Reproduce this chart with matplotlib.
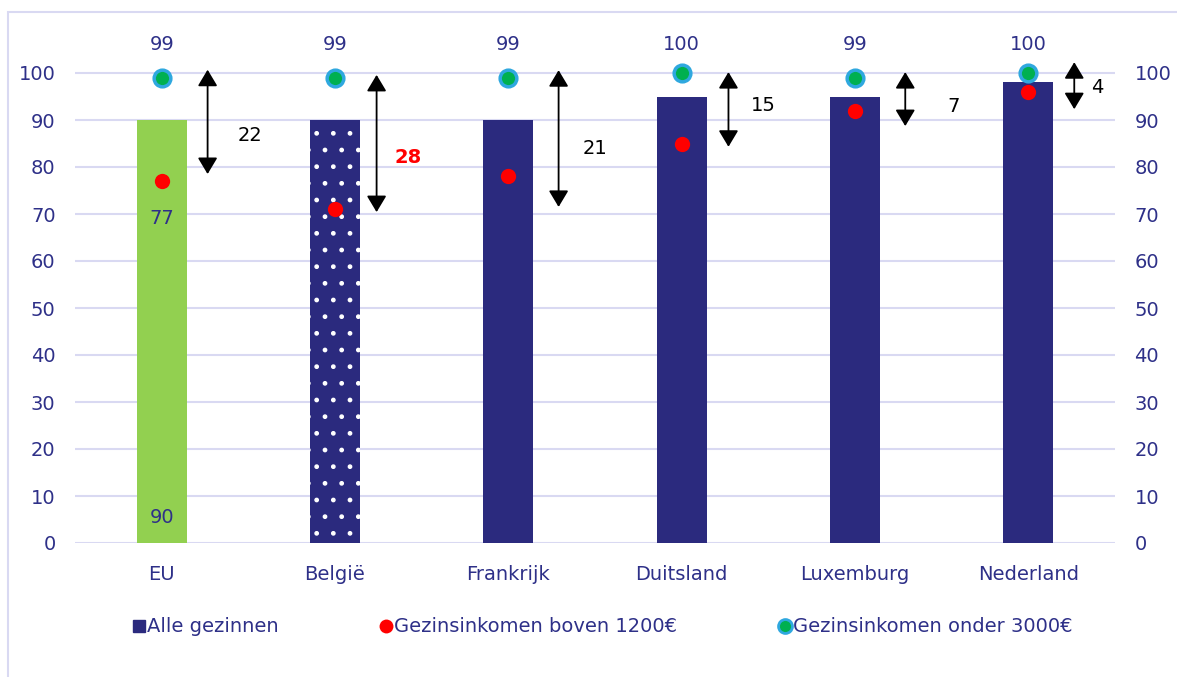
import numpy as np
import matplotlib
matplotlib.use('Agg')
import matplotlib.pyplot as plt
from matplotlib.lines import Line2D
from matplotlib.patches import Rectangle

# data
landen      = ['EU', 'België', 'Frankrijk', 'Duitsland', 'Luxemburg', 'Nederland']
alle        = [90, 90, 90, 95, 95, 98]          # Alle gezinnen (bars)
boven_1200  = [77, 71, 78, 85, 92, 96]          # red dots
onder_3000  = [99, 99, 99, 100, 99, 100]        # green dots
verschil    = [22, 28, 21, 15, 7, 4]            # gap labels
pijl_boven  = [100.7, 99.6, 100.6, 100.2, 100.2, 102.3]   # arrow extents
pijl_onder  = [78.5, 70.4, 71.5, 84.3, 88.7, 92.3]
label_y     = [86.6, 82.0, 84.0, 93.0, 92.8, 97.0]

NAVY  = '#2B2A7E'
TXT   = '#2E3088'
GREEN = '#92D050'
RED   = '#FF0000'
DOT_G = '#00B050'
DOT_E = '#2FA8DF'
GRID  = '#D9D9F2'

plt.rcParams['font.family'] = 'DejaVu Sans'
plt.rcParams['hatch.linewidth'] = 1.0

fig = plt.figure(figsize=(11.77, 6.77), dpi=100)
ax = fig.add_axes([75/1177, 134/677, 1040/1177, 517/677])

x = np.arange(len(landen))
colors = [GREEN] + [NAVY] * (len(landen) - 1)
bars = ax.bar(x, alle, width=0.29, color=colors, linewidth=0, zorder=2)
bars[1].set_hatch('.')
bars[1].set_edgecolor('white')

ax.plot(x, boven_1200, 'o', color=RED, ms=11, mew=0, zorder=4)
ax.plot(x, onder_3000, 'o', color=DOT_G, mec=DOT_E, ms=12, mew=2.5, zorder=4)

# values above the green dots
for xi, v in zip(x, onder_3000):
    ax.text(xi, 106, str(v), ha='center', va='center', fontsize=14, color=TXT)

# EU labels
ax.text(0, boven_1200[0] - 8, str(boven_1200[0]), ha='center', va='center', fontsize=14, color=TXT)
ax.text(0, 5.5, str(alle[0]), ha='center', va='center', fontsize=14, color=TXT)

# double arrows with the gap
offs = [0.265, 0.24, 0.29, 0.27, 0.29, 0.265]
txt_dx = [0.51, 0.42, 0.50, 0.47, 0.57, 0.40]
for i in range(len(landen)):
    ax.annotate('', xy=(x[i] + offs[i], pijl_onder[i]), xytext=(x[i] + offs[i], pijl_boven[i]),
                arrowprops=dict(arrowstyle='<|-|>,head_length=0.5,head_width=0.3', color='black',
                                lw=1.3, mutation_scale=20, shrinkA=0, shrinkB=0), zorder=5)
    if i == 1:
        ax.text(x[i] + txt_dx[i], label_y[i], str(verschil[i]), ha='center', va='center',
                fontsize=14, color=RED, fontweight='bold')
    else:
        ax.text(x[i] + txt_dx[i], label_y[i], str(verschil[i]), ha='center', va='center',
                fontsize=14, color='black')

ax.set_xlim(-0.5, len(landen) - 0.5)
ax.set_ylim(0, 110)
ax.set_yticks(range(0, 101, 10))
ax.set_xticks(x)
ax.set_xticklabels(landen)
ax.grid(axis='y', color=GRID, lw=1.5, zorder=0)
ax.set_axisbelow(True)
for s in ax.spines.values():
    s.set_visible(False)
ax.tick_params(axis='both', length=0, labelsize=14, labelcolor=TXT)
ax.tick_params(axis='y', labelright=True, pad=14)
ax.tick_params(axis='x', pad=16)

# legend
handles = [
    Line2D([], [], marker='s', ls='', color=NAVY, ms=9),
    Line2D([], [], marker='o', ls='', color=RED, ms=10, mew=0),
    Line2D([], [], marker='o', ls='', color=DOT_G, mec=DOT_E, ms=10, mew=2),
]
leg = fig.legend(handles, ['Alle gezinnen', 'Gezinsinkomen boven 1200€', 'Gezinsinkomen onder 3000€'],
                 loc='center', bbox_to_anchor=(603/1177, 1 - 627/677), ncol=3, frameon=False,
                 fontsize=14, handlelength=0.5, handletextpad=0.15, columnspacing=5.3)
for t in leg.get_texts():
    t.set_color(TXT)

# light frame around the chart
fig.patches.append(Rectangle((8/1177, -0.01), 1.1, 1 - 12/677 + 0.01, transform=fig.transFigure,
                             fill=False, edgecolor=GRID, lw=1.5))

fig.savefig('out.png', dpi=100)
